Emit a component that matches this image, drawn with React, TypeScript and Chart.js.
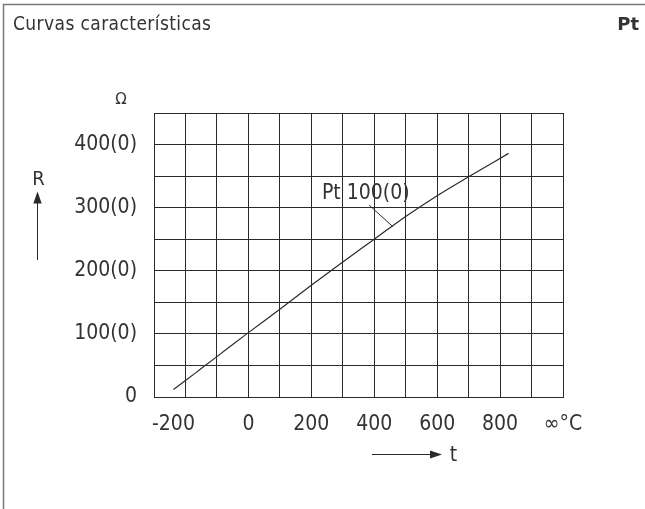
import React, { useEffect, useRef } from 'react';
import { Chart, registerables } from 'chart.js';

Chart.register(...registerables);

const FONT = '"DejaVu Sans Condensed", "Liberation Sans Narrow", "DejaVu Sans", sans-serif';

// Characteristic curve (temperature °C -> resistance Ω)
const temperatures = [-238, -200, -150, -100, 0, 100, 200, 300, 400, 500, 600, 700, 827];
const resistances = [12, 26, 45, 64, 102, 139, 177, 214, 250, 286, 319, 349, 386];

const xTickValues = [-200, 0, 200, 400, 600, 800, 1000];
const xTickLabels = ['-200    ', '0', '200', '400', '600', '800', '∞°C'];
const yTickValues = [0, 100, 200, 300, 400];
const yTickLabels = ['0', '100(0)', '200(0)', '300(0)', '400(0)'];

const titleText = 'Curvas características';
const badgeText = 'Pt';
const seriesLabel = 'Pt 100(0)';
const yUnit = 'Ω';
const yName = 'R';
const xName = 't';

// annotation anchors in data units
const seriesLabelAt = { x: 373, y: 322 };
const leaderFrom = { x: 384, y: 304 };
const leaderTo = { x: 459, y: 270 };

const INK = '#2a2a2a';

const decorPlugin = {
  id: 'decor',
  beforeDraw(chart: any) {
    const ctx = chart.ctx;
    ctx.save();
    ctx.fillStyle = '#ffffff';
    ctx.fillRect(0, 0, chart.width, chart.height);
    ctx.restore();
  },
  afterDraw(chart: any) {
    const ctx = chart.ctx;
    const xs = chart.scales.x;
    const ys = chart.scales.y;
    ctx.save();
    // outer frame (top + left)
    ctx.strokeStyle = '#7a7a7a';
    ctx.lineWidth = 1.5;
    ctx.beginPath();
    ctx.moveTo(3.5, chart.height);
    ctx.lineTo(3.5, 4.5);
    ctx.lineTo(chart.width, 4.5);
    ctx.stroke();

    ctx.fillStyle = '#333';
    ctx.textBaseline = 'alphabetic';
    ctx.textAlign = 'left';
    ctx.font = `19px ${FONT}`;
    ctx.letterSpacing = '0.4px';
    ctx.fillText(titleText, 13, 30);
    ctx.letterSpacing = '0px';

    ctx.font = `bold 18px "DejaVu Sans", sans-serif`;
    ctx.textAlign = 'right';
    ctx.fillText(badgeText, 639, 30);

    ctx.font = `15px "DejaVu Sans", sans-serif`;
    ctx.textAlign = 'center';
    ctx.textBaseline = 'middle';
    ctx.fillText(yUnit, 121, 100);

    ctx.font = `20px ${FONT}`;
    ctx.fillText(yName, 38.5, 180);

    ctx.font = `21px ${FONT}`;
    ctx.fillText(xName, 453.5, 456);

    // annotation
    ctx.fillText(seriesLabel, xs.getPixelForValue(seriesLabelAt.x), ys.getPixelForValue(seriesLabelAt.y));
    ctx.strokeStyle = INK;
    ctx.lineWidth = 1;
    ctx.beginPath();
    ctx.moveTo(xs.getPixelForValue(leaderFrom.x), ys.getPixelForValue(leaderFrom.y));
    ctx.lineTo(xs.getPixelForValue(leaderTo.x), ys.getPixelForValue(leaderTo.y));
    ctx.stroke();

    // R arrow (up)
    ctx.fillStyle = INK;
    ctx.beginPath();
    ctx.moveTo(37.5, 260);
    ctx.lineTo(37.5, 200);
    ctx.stroke();
    ctx.beginPath();
    ctx.moveTo(37.5, 191.5);
    ctx.lineTo(33.3, 203.5);
    ctx.lineTo(41.7, 203.5);
    ctx.closePath();
    ctx.fill();

    // t arrow (right)
    ctx.beginPath();
    ctx.moveTo(372, 454.5);
    ctx.lineTo(434, 454.5);
    ctx.stroke();
    ctx.beginPath();
    ctx.moveTo(442, 454.5);
    ctx.lineTo(430, 450.5);
    ctx.lineTo(430, 458.5);
    ctx.closePath();
    ctx.fill();

    ctx.restore();
  },
};

export default function App() {
  const ref = useRef<HTMLCanvasElement>(null);
  useEffect(() => {
    if (!ref.current) return;
    const chart = new Chart(ref.current, {
      type: 'line',
      data: {
        datasets: [
          {
            label: seriesLabel,
            data: temperatures.map((t, i) => ({ x: t, y: resistances[i] })),
            borderColor: INK,
            borderWidth: 1.2,
            pointRadius: 0,
            fill: false,
            cubicInterpolationMode: 'monotone',
          },
        ],
      },
      options: {
        responsive: false,
        animation: false,
        devicePixelRatio: 1,
        layout: { padding: { left: 0, top: 113, right: 82, bottom: 0 } },
        plugins: { legend: { display: false }, tooltip: { enabled: false }, title: { display: false } },
        scales: {
          x: {
            type: 'linear',
            min: -300,
            max: 1000,
            afterFit: (s: any) => { s.height = 112; },
            afterBuildTicks: (s: any) => {
              const t: any[] = [];
              for (let v = -300; v <= 1000; v += 100) t.push({ value: v });
              s.ticks = t;
            },
            ticks: {
              autoSkip: false,
              maxRotation: 0,
              padding: 15,
              color: '#333',
              font: { family: FONT, size: 21 },
              callback: (v: any) => {
                const i = xTickValues.indexOf(Number(v));
                return i >= 0 ? xTickLabels[i] : '';
              },
            },
            grid: { color: INK, lineWidth: 1, drawTicks: false },
            border: { color: INK, width: 1 },
          },
          y: {
            type: 'linear',
            min: 0,
            max: 450,
            afterFit: (s: any) => { s.width = 154; },
            afterBuildTicks: (s: any) => {
              const t: any[] = [];
              for (let v = 0; v <= 450; v += 50) t.push({ value: v });
              s.ticks = t;
            },
            ticks: {
              autoSkip: false,
              padding: 17,
              color: '#333',
              font: { family: FONT, size: 21 },
              callback: (v: any) => {
                const i = yTickValues.indexOf(Number(v));
                return i >= 0 ? yTickLabels[i] : '';
              },
            },
            grid: { color: INK, lineWidth: 1, drawTicks: false },
            border: { color: INK, width: 1 },
          },
        },
      },
      plugins: [decorPlugin],
    } as any);
    return () => chart.destroy();
  }, []);
  return (
    <div style={{ position: 'fixed', left: 0, top: 0, width: 645, height: 509 }}>
      <canvas ref={ref} width={645} height={509} style={{ display: 'block', width: 645, height: 509 }} />
    </div>
  );
}
